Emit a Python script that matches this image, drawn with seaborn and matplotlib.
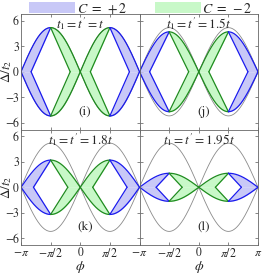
import numpy as np
import pandas as pd
import matplotlib
matplotlib.use("Agg")
import matplotlib.pyplot as plt
from matplotlib.patches import Patch
import seaborn as sns

# ---- data ----
hoppings = ["t", "1.5t", "1.8t", "1.95t"]          # t1 = t' values
panel_tags = ["(i)", "(j)", "(k)", "(l)"]
peak_heights = [5.2, 4.7, 3.2, 1.65]                # colored-region peak at phi = +-pi/2
vertex_offsets = [0.33, 0.33, 0.29, 0.22]           # inner vertex distance from +-pi/2, units of pi
gray_peak = 3 * np.sqrt(3)                          # reference curve amplitude
ytick_values = [-6, -3, 0, 3, 6]
ytick_labels = ["\u22126", "\u22123", "0", "3", "6"]
xtick_values = [-np.pi, -np.pi / 2, 0, np.pi / 2, np.pi]
xtick_labels = [r"$-\pi$", r"$-\pi/2$", "0", r"$\pi/2$", r"$\pi$"]
legend_labels = [r"$C\;=\;+2$", r"$C\;=\;-2$"]

BLUE_FILL = "#c8c8f7"
GREEN_FILL = "#c8f8c8"
BLUE_LINE = "#1a1aee"
GREEN_LINE = "#1e8c1e"
GRAY_LINE = "#8a8a8a"

sns.set_theme(style="ticks")
plt.rcParams["font.family"] = ["STIXGeneral", "DejaVu Serif"]
plt.rcParams["mathtext.fontset"] = "stix"
plt.rcParams["axes.unicode_minus"] = True

fig, axes = plt.subplots(2, 2, figsize=(2.66, 2.75), dpi=100)
fig.subplots_adjust(left=0.079, right=0.970, top=0.949, bottom=0.109, wspace=0, hspace=0)


def seg(a, b, n=200):
    return np.linspace(a, b, n)


def line(ax, x, y, color, lw):
    df = pd.DataFrame({"x": x, "y": y})
    sns.lineplot(data=df, x="x", y="y", ax=ax, color=color, lw=lw,
                 sort=False, estimator=None, legend=False)


for k, ax in enumerate(axes.flat):
    P = peak_heights[k]
    d = vertex_offsets[k] * np.pi

    # gray reference curve
    xg = seg(-np.pi, np.pi, 600)
    for s in (1, -1):
        line(ax, xg, s * gray_peak * np.abs(np.sin(xg)), GRAY_LINE, 0.6)

    def outer(x):
        return P * np.abs(np.sin(x))

    def inner(x, c):
        return np.clip(P * (1 - np.abs(x - c) / d), 0, None)

    regions = [
        (-np.pi, -np.pi / 2, -np.pi / 2, BLUE_FILL, BLUE_LINE),
        (-np.pi / 2, 0, -np.pi / 2, GREEN_FILL, GREEN_LINE),
        (0, np.pi / 2, np.pi / 2, GREEN_FILL, GREEN_LINE),
        (np.pi / 2, np.pi, np.pi / 2, BLUE_FILL, BLUE_LINE),
    ]
    for a, b, c, fc, lc in regions:
        x = seg(a, b, 300)
        ax.fill_between(x, inner(x, c), outer(x), color=fc, lw=0)
        ax.fill_between(x, -outer(x), -inner(x, c), color=fc, lw=0)

    for a, b, c, fc, lc in regions:
        x = seg(a, b, 300)
        if a < c:
            xi = seg(max(a, c - d), c, 50)
        else:
            xi = seg(c, min(b, c + d), 50)
        for s in (1, -1):
            line(ax, x, s * outer(x), lc, 0.9)
            line(ax, xi, s * inner(xi, c), lc, 0.9)

    ax.set_xlim(-np.pi, np.pi)
    ax.set_ylim(-6.8, 6.8)
    ax.set_xticks(xtick_values)
    ax.set_yticks(ytick_values)
    ax.set_xlabel("")
    ax.set_ylabel("")
    ax.tick_params(direction="in", top=True, right=True, length=2.5, width=0.5,
                   labelsize=8.5, pad=1.5, color="#555555")
    for sp in ax.spines.values():
        sp.set_color("#666666")
        sp.set_linewidth(0.6)

    row, col = divmod(k, 2)
    if row == 1:
        labs = list(xtick_labels)
        if col == 0:
            labs[-1] = ""
        ax.set_xticklabels(labs)
        ax.set_xlabel(r"$\phi$", fontsize=10, labelpad=-1)
    else:
        ax.set_xticklabels([])
    if col == 0:
        ax.set_yticklabels(ytick_labels)
        ax.set_ylabel(r"$\Delta/t_2$", fontsize=9.5)
        ax.yaxis.set_label_coords(-0.058, 0.5)
    else:
        ax.set_yticklabels([])

    ax.text(0.5, 0.915, r"$t_1=t'=%s$" % hoppings[k], transform=ax.transAxes,
            ha="center", va="center", fontsize=9.5)
    ax.text(0.54, 0.15, panel_tags[k], transform=ax.transAxes,
            ha="center", va="center", fontsize=9.5)

handles = [Patch(facecolor=BLUE_FILL, edgecolor="none"),
           Patch(facecolor=GREEN_FILL, edgecolor="none")]
fig.legend(handles, legend_labels, loc="upper center", bbox_to_anchor=(0.53, 1.02),
           ncol=2, frameon=False, handlelength=3.3, handleheight=0.8,
           columnspacing=2.0, handletextpad=0.1, fontsize=10, borderaxespad=0.1)

fig.savefig("out.png", dpi=100)
